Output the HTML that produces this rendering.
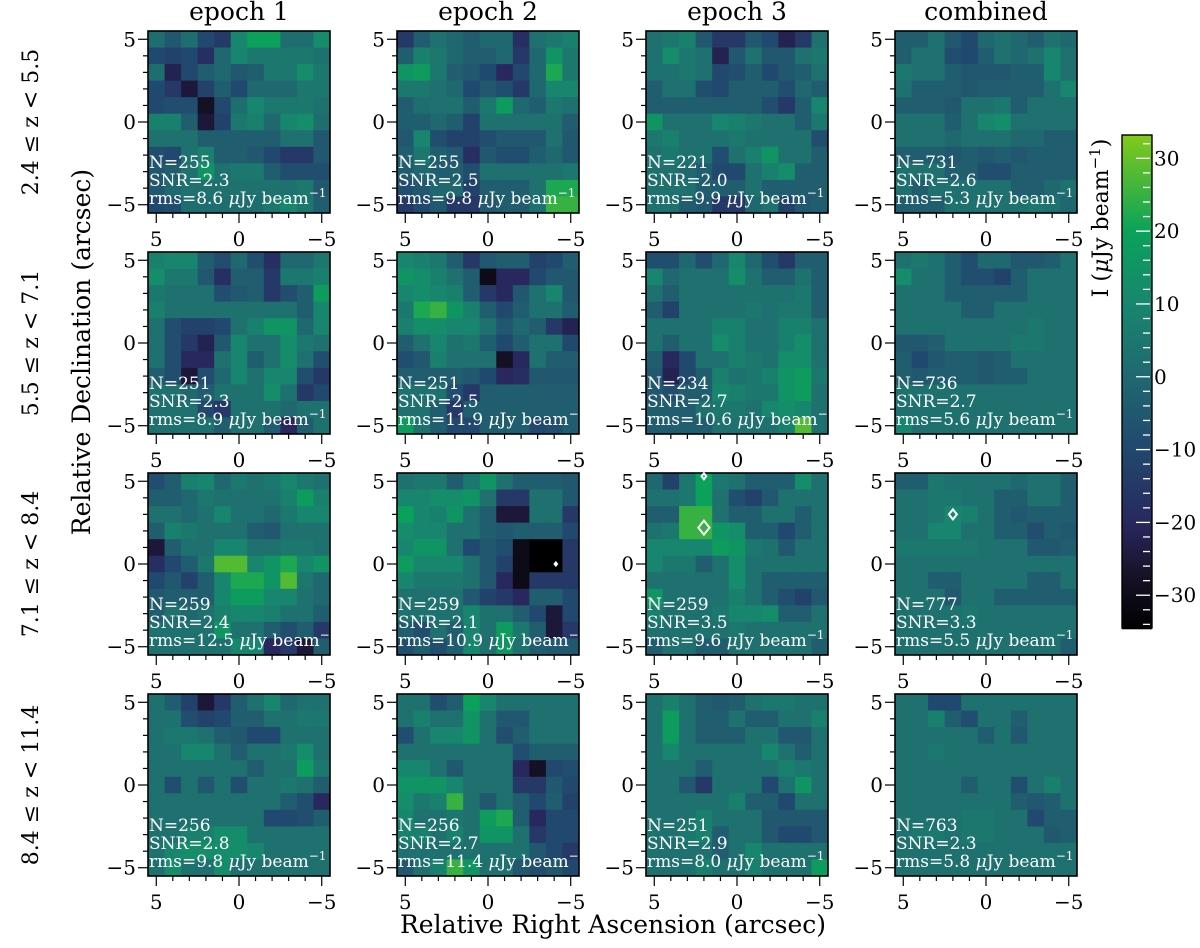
<!DOCTYPE html>
<html><head><meta charset="utf-8"><style>
body{margin:0;background:#fff;}
svg text{font-family:"DejaVu Serif","Liberation Serif",serif;}
</style></head><body>
<svg id="fig" width="1200" height="943" viewBox="0 0 1200 943" xmlns="http://www.w3.org/2000/svg"></svg>
<script>
const colTitles=["epoch 1","epoch 2","epoch 3","combined"];
const rowTitles=["2.4 ≤ z < 5.5","5.5 ≤ z < 7.1","7.1 ≤ z < 8.4","8.4 ≤ z < 11.4"];
const nVals=[[255,255,221,731],[251,251,234,736],[259,259,259,777],[256,256,251,763]];
const snrVals=[["2.3","2.5","2.0","2.6"],["2.3","2.5","2.7","2.7"],["2.4","2.1","3.5","3.3"],["2.8","2.7","2.9","2.3"]];
const rmsVals=[["8.6","9.8","9.9","5.3"],["8.9","11.9","10.6","5.6"],["12.5","10.9","9.6","5.5"],["9.8","11.4","8.0","5.8"]];
const xTicks=[5,0,-5];
const yTicks=[5,0,-5];
const cbTicks=[30,20,10,0,-10,-20,-30];
const markers=[{r:2,c:2,ra:2,dec:2.2,s:7},{r:2,c:2,ra:2,dec:5.3,s:3},{r:2,c:3,ra:2,dec:3,s:5},{r:2,c:1,ra:-4.1,dec:0,s:1.5}];
const m00=[[2,-5,2,-10,-14,10,20,20,2,2,12],[-10,-12,-10,-18,0,10,5,5,5,5,3],[2,-22,-10,-3,0,-5,-3,5,5,12,5],[-10,-15,-25,-12,-3,-10,0,0,0,5,5],[-10,-8,-8,-28,-10,2,10,5,5,5,3],[8,8,-3,-25,-12,5,8,0,10,12,2],[3,3,3,-3,-3,-3,-3,-3,3,3,-5],[-8,-10,3,8,-3,-3,-5,-10,-15,-15,-5],[-5,-3,3,15,3,5,5,-3,-8,-8,-8],[-5,0,3,3,3,3,3,3,3,5,-5],[-10,-8,2,2,2,2,2,5,10,5,-3]];
const m01=[[-15,-3,3,0,-3,0,0,-18,3,5,8],[-3,8,5,0,-3,-3,0,-15,0,15,5],[15,18,5,-3,-5,-10,-20,-10,0,22,5],[5,5,3,0,-10,-5,-8,-15,0,10,10],[-3,2,3,3,-3,5,18,0,-3,5,3],[-3,-3,0,-3,-12,3,3,3,3,3,-3],[-5,10,-8,-12,-12,-8,-5,-5,-5,3,-5],[-3,5,-3,-5,-18,-5,-8,-8,-3,0,-5],[-3,0,-3,-3,-8,3,3,3,3,3,5],[-8,-5,0,0,-12,-3,-3,-3,3,22,22],[-15,-10,-5,-15,-15,-5,-3,-3,3,25,25]];
const m02=[[3,5,8,-5,-15,-15,-5,-10,-22,-15,3],[3,12,5,3,-22,-5,3,-5,-5,3,5],[3,3,5,3,-10,-8,-3,-10,-5,-3,3],[-3,3,3,-8,-10,-3,-3,-3,-8,0,-3],[-3,-3,-3,-3,-3,-3,-3,-8,-15,-3,10],[15,3,3,3,10,8,5,3,3,-3,5],[5,8,3,3,3,5,3,3,3,3,-8],[3,5,3,3,-8,3,8,15,3,3,-3],[3,3,0,-3,-10,-10,3,8,12,-3,-3],[3,3,3,-3,-3,-3,3,-3,-3,-3,-3],[3,3,-3,-5,-15,-15,0,3,-12,-5,-3]];
const m03=[[-3,-3,3,-5,-10,0,3,0,-3,3,0],[-3,3,3,-8,-10,-3,3,0,3,10,3],[5,3,3,-3,-5,-5,-5,-3,-3,10,3],[3,-3,-3,-3,-5,-3,-3,-3,-3,3,10],[-3,-3,-3,-5,3,3,5,-3,3,3,3],[3,3,3,-3,3,10,12,3,3,3,3],[3,3,3,0,3,3,3,0,0,-3,-3],[-3,-3,-3,-5,-3,-5,-3,-5,-3,-3,-3],[3,3,3,-3,-3,-8,-8,-3,-3,-3,-3],[3,-3,3,3,3,3,3,-3,-3,0,3],[-3,-3,-3,3,3,3,3,3,5,3,0]];
const m10=[[8,10,10,-3,-8,0,-8,-18,0,0,5],[12,5,5,-5,-18,-3,-3,-15,5,5,8],[5,3,3,3,-8,-5,-3,-15,-8,-3,18],[8,3,3,3,3,3,3,3,3,-3,10],[3,-8,-12,-12,-10,3,8,15,15,0,10],[3,-8,-15,-22,-5,10,3,3,12,5,3],[3,-8,-20,-20,3,10,-3,3,12,3,-8],[-3,-8,-25,-8,0,10,3,10,10,-8,-15],[3,3,0,-3,3,3,3,12,3,-15,-10],[3,3,3,-10,-15,3,3,3,0,3,3],[3,3,3,3,-3,3,3,-3,-20,-3,3]];
const m11=[[10,8,5,-3,-15,-5,-3,-3,-12,-10,-3],[15,12,8,3,-3,-30,-20,-20,-10,-5,-5],[10,12,10,8,-3,-15,-20,-5,3,10,-5],[5,22,25,15,8,-3,-10,-3,3,3,-3],[8,12,12,10,10,3,-5,0,-3,-15,-22],[-3,3,10,3,5,-3,-10,-3,3,3,-10],[-8,-5,8,3,3,3,-28,-20,3,-3,-3],[-3,-3,-3,-3,-5,-10,-20,-18,-5,-5,-5],[3,3,3,-8,-15,-3,-3,-3,-3,-3,-3],[3,3,-3,-15,-3,-3,-3,-3,-3,-3,-3],[18,3,-3,-10,-10,-3,-3,-3,-10,-8,-3]];
const m12=[[-8,-8,0,-8,0,10,0,-8,-15,-3,-3],[10,0,3,3,3,12,3,-3,-3,3,-3],[3,-3,3,3,3,3,3,3,3,5,-3],[-3,-12,3,3,3,3,5,3,5,5,-3],[3,3,3,3,8,8,3,3,8,8,3],[3,-3,3,3,12,8,3,3,8,12,3],[-3,-20,-10,3,3,8,5,3,12,12,3],[-5,-22,-10,-3,8,3,5,8,15,18,5],[-5,-8,-3,-3,10,8,5,5,15,18,3],[-3,-3,-3,3,5,5,3,10,12,10,3],[-3,-3,-3,-3,3,3,3,3,8,28,3]];
const m13=[[3,5,3,-3,-8,0,0,-5,-5,-3,3],[12,3,3,-3,-8,-8,-12,-3,3,3,3],[3,3,3,-3,-3,-3,-3,-3,3,3,3],[3,3,3,3,-3,-3,3,3,3,3,3],[3,3,3,3,3,3,3,3,5,3,3],[-5,-5,-3,3,3,3,3,5,5,3,3],[-3,-10,-5,-3,-3,-5,-3,3,3,3,3],[-3,-5,-3,-3,-3,-5,-3,-3,3,3,3],[3,3,3,3,3,3,3,3,3,3,3],[3,3,3,3,3,3,3,3,3,3,3],[10,3,3,3,3,3,3,3,3,3,3]];
const m20=[[-8,-3,8,10,0,5,3,5,10,5,3],[-3,-3,0,5,3,3,3,3,8,18,8],[3,3,0,3,10,3,3,0,5,10,10],[-3,8,5,3,3,3,-3,-5,3,3,3],[-25,-3,3,3,10,10,3,3,5,5,3],[-18,-10,-3,5,28,28,10,15,22,10,15],[-10,-5,-12,-3,10,22,22,15,28,5,0],[-5,-3,-3,-3,10,18,18,10,10,3,0],[-3,3,0,3,8,10,10,8,3,3,-3],[3,3,3,3,15,3,3,-3,-8,-3,-15],[3,3,3,3,3,10,10,-20,-15,-25,-3]];
const m21=[[3,5,5,-3,5,15,3,-3,-3,-3,-5],[10,10,12,12,15,3,-15,-15,3,3,-5],[20,10,8,15,3,-3,-25,-25,3,3,-15],[12,10,10,3,3,-3,-5,-3,-3,-3,-10],[10,15,15,3,-10,-5,-8,-30,-35,-35,-15],[18,10,10,10,3,-5,-12,-30,-35,-35,-15],[10,5,5,5,3,-5,-20,-30,-15,-15,-15],[3,3,3,3,-5,-12,-15,-20,-3,-3,-10],[3,3,3,3,10,3,3,-3,-10,-25,-10],[-3,-8,3,-3,10,3,18,5,-3,-25,-15],[-8,-3,-8,-3,10,3,15,3,-3,-5,-5]];
const m22=[[0,-12,5,20,5,3,-3,-3,-3,12,3],[3,3,5,20,3,-8,-12,-5,3,3,3],[-3,-3,25,25,3,-3,-3,3,3,-3,3],[3,5,25,25,15,12,-3,-3,-10,-3,3],[10,10,10,10,18,15,5,3,-5,3,3],[10,5,5,-3,3,12,3,3,3,3,3],[3,3,3,3,3,12,3,-3,-3,-3,-3],[15,3,3,3,3,8,3,-3,-8,-12,-5],[8,3,3,3,5,10,10,12,-3,-3,3],[3,3,3,3,3,5,3,3,3,3,3],[-3,3,3,-3,-3,3,3,3,3,3,-3]];
const m23=[[-3,-3,5,3,3,3,3,0,3,3,-3],[3,3,5,5,3,3,-3,-3,3,3,-3],[3,3,5,10,8,3,-3,-5,-3,-3,-3],[3,3,10,10,3,3,-3,-3,-8,-3,-5],[5,5,5,5,5,3,3,3,-5,-5,-3],[3,3,3,3,3,3,3,3,3,3,3],[3,3,-3,-3,3,3,3,3,-3,-3,3],[3,3,3,-5,3,3,-3,-3,-3,-3,-3],[3,3,3,3,5,3,3,3,3,3,3],[3,3,3,3,3,3,3,3,3,3,3],[3,3,3,3,3,3,3,3,3,3,-3]];
const m30=[[3,-3,-12,-25,-15,-3,3,10,0,3,3],[3,3,-8,-12,-10,-3,-3,3,3,5,5],[3,5,5,3,-3,-5,-10,-10,3,3,3],[3,3,10,10,3,-3,3,3,5,12,3],[3,3,3,3,3,3,-3,3,3,18,5],[3,-8,3,-5,3,-8,3,3,5,3,-3],[3,3,3,3,3,3,3,3,-3,-8,-20],[3,3,3,3,3,3,3,-10,-10,-8,-3],[3,3,8,8,12,12,3,3,3,3,3],[3,10,12,12,12,12,10,3,3,3,3],[3,12,3,3,12,3,3,3,3,3,3]];
const m31=[[3,3,-8,-3,20,10,3,3,3,3,3],[3,8,3,3,15,3,-5,-5,3,3,3],[-8,3,10,10,15,3,-8,-3,3,3,3],[3,3,3,3,3,3,3,-8,-3,-3,-3],[10,10,3,-5,3,3,3,-20,-28,-10,-8],[15,15,15,10,3,3,3,-15,-15,-5,-10],[12,5,8,25,3,-5,3,-3,-10,-3,-12],[10,3,3,5,3,18,22,-3,-20,-10,-10],[8,8,3,8,3,15,15,3,-15,-10,-10],[3,3,3,3,3,3,3,3,-5,-10,-15],[-5,3,8,25,15,3,3,-5,-8,-5,-10]];
const m32=[[3,8,3,-3,-5,-3,3,5,5,3,3],[3,18,3,-3,-3,3,-3,-3,3,3,8],[3,18,3,-3,-3,-3,3,3,-5,-5,3],[3,10,3,3,3,3,3,10,3,-3,3],[3,3,3,-3,3,3,3,3,8,5,3],[3,3,-5,-15,3,3,3,-10,3,15,3],[3,3,3,3,3,8,-3,-3,-10,3,3],[3,3,3,8,3,3,3,-5,-5,-5,-5],[3,3,5,8,-3,3,3,-5,-10,-10,-5],[3,3,3,3,-3,3,10,3,3,3,3],[3,3,3,8,3,3,8,3,3,3,18]];
const m33=[[3,3,-10,-10,3,3,3,3,3,3,3],[3,3,8,-3,-8,3,3,-3,3,3,3],[3,3,3,3,3,-3,3,-5,3,3,3],[3,3,5,3,3,3,3,3,3,3,3],[3,3,3,3,3,3,3,3,3,3,3],[3,3,3,3,-3,3,3,-8,3,8,3],[3,3,3,3,3,3,3,-3,-5,-3,3],[3,3,3,3,5,5,3,3,-10,-3,-3],[3,5,5,3,5,5,3,3,3,-5,-3],[3,3,3,3,3,3,3,3,3,3,3],[3,3,3,3,3,3,3,3,3,3,3]];
const maps=[[m00,m01,m02,m03],[m10,m11,m12,m13],[m20,m21,m22,m23],[m30,m31,m32,m33]];

const VMIN=-34.5,VMAX=33.2;
const stops=[[-34.5,[0,0,0]],[-27,[24,18,42]],[-20,[40,40,95]],[-10,[33,72,110]],[0,[32,104,112]],[10,[24,134,110]],[20,[10,162,90]],[33.2,[130,202,26]]];
function cmap(v){v=Math.max(VMIN,Math.min(VMAX,v));for(let i=0;i<stops.length-1;i++){const a=stops[i],b=stops[i+1];if(v<=b[0]){const t=(v-a[0])/(b[0]-a[0]);const c=a[1].map((x,k)=>Math.round(x+(b[1][k]-x)*t));return `rgb(${c[0]},${c[1]},${c[2]})`;}}return 'rgb(130,202,26)';}
const NS='http://www.w3.org/2000/svg';
const svg=document.getElementById('fig');
function el(tag,attrs,parent){const e=document.createElementNS(NS,tag);for(const k in attrs)e.setAttribute(k,attrs[k]);(parent||svg).appendChild(e);return e;}
const lefts=[148,397,646,895],tops=[31,252,473,694],S=182;
function xs(ra,c){return lefts[c]+(5.5-ra)/11*S;}
function ys(dec,r){return tops[r]+(5.5-dec)/11*S;}

for(let r=0;r<4;r++){for(let c=0;c<4;c++){
 const g=el('g',{});
 
 
 const m=maps[r][c];
 for(let i=0;i<11;i++)for(let j=0;j<11;j++){
  const ra=5-j,dec=5-i;
  const x0=xs(ra+0.5,c),y0=ys(dec+0.5,r);
  const rc=el('rect',{x:x0.toFixed(2),y:y0.toFixed(2),width:(S/11+0.4).toFixed(2),height:(S/11+0.4).toFixed(2),fill:cmap(m[i][j])},g);
  
  
 }
 el('rect',{x:lefts[c],y:tops[r],width:S,height:S,fill:'none',stroke:'#000','stroke-width':1.6},g);
 for(let t=-5;t<=5;t++){
  const major=(t%5===0),L=major?10:5;
  const X=xs(t,c),Y=ys(t,r);
  el('line',{x1:X,y1:tops[r]+S,x2:X,y2:tops[r]+S+L,stroke:'#000','stroke-width':1.2},g);
  el('line',{x1:lefts[c],y1:Y,x2:lefts[c]-L,y2:Y,stroke:'#000','stroke-width':1.2},g);
 }
 xTicks.forEach(t=>{const tx=el('text',{x:xs(t,c),y:tops[r]+S+33,'font-size':20,'text-anchor':'middle',fill:'#000'},g);tx.textContent=String(t).replace('-','−');});
 yTicks.forEach(t=>{const tx=el('text',{x:lefts[c]-12,y:ys(t,r)+7,'font-size':20,'text-anchor':'end',fill:'#000'},g);tx.textContent=String(t).replace('-','−');});
}}
// annotations drawn after all panels so they overflow on top
for(let r=0;r<4;r++){for(let c=0;c<4;c++){
 const g=el('g',{});
 
 
 const lines=['N='+nVals[r][c],'SNR='+snrVals[r][c]];
 lines.forEach((s,k)=>{const tx=el('text',{x:lefts[c]+1,y:tops[r]+137+k*18,'font-size':17,fill:'#fff'},g);tx.textContent=s;});
 const rt=el('text',{x:lefts[c]+1,y:tops[r]+173,'font-size':17,fill:'#fff'},g);
 rt.innerHTML='rms='+rmsVals[r][c]+' <tspan font-style="italic">μ</tspan>Jy beam<tspan dy="-7" font-size="12">−1</tspan>';
 
 
}}
markers.forEach(mk=>{
 const X=xs(mk.ra,mk.c),Y=ys(mk.dec,mk.r),s=mk.s;
 const p=el('polygon',{points:`${X},${Y-s} ${X+s*0.8},${Y} ${X},${Y+s} ${X-s*0.8},${Y}`,fill:s<2?'#fff':'none',stroke:'#fff','stroke-width':2});
 
 
});
colTitles.forEach((t,c)=>{const tx=el('text',{x:lefts[c]+S/2,y:20,'font-size':25,'text-anchor':'middle',fill:'#000'});tx.textContent=t;});
rowTitles.forEach((t,r)=>{const cy=tops[r]+S/2;const tx=el('text',{x:38,y:cy,'font-size':22,'text-anchor':'middle',fill:'#000',transform:`rotate(-90 38 ${cy})`});tx.textContent=t;});
const yl=el('text',{x:90,y:352,'font-size':25,'text-anchor':'middle',fill:'#000',transform:'rotate(-90 90 352)'});
yl.textContent='Relative Declination (arcsec)';


const xl=el('text',{x:613,y:933,'font-size':25,'text-anchor':'middle',fill:'#000'});
xl.textContent='Relative Right Ascension (arcsec)';


const cbX=1122,cbW=30,cbT=135,cbB=628;
function cy(v){return cbB-(v-VMIN)/(VMAX-VMIN)*(cbB-cbT);}
const cb=el('g',{});


for(let y=cbT;y<cbB;y+=2){const v=VMIN+(cbB-y-1)/(cbB-cbT)*(VMAX-VMIN);el('rect',{x:cbX,y:y,width:cbW,height:2.3,fill:cmap(v)},cb);}
el('rect',{x:cbX,y:cbT,width:cbW,height:cbB-cbT,fill:'none',stroke:'#000','stroke-width':1.4},cb);
for(let v=-34;v<=33;v+=2){const major=v%10===0;const Y=cy(v);el('line',{x1:cbX+cbW-(major?16:9),y1:Y,x2:cbX+cbW-2,y2:Y,stroke:'#fff','stroke-width':1.3},cb);}
cbTicks.forEach(v=>{const tx=el('text',{x:cbX+cbW+2,y:cy(v)+7,'font-size':20,fill:'#000'},cb);tx.textContent=String(v).replace('-','−');});
const cl=el('text',{x:1108,y:218,'font-size':22,'text-anchor':'middle',fill:'#000',transform:'rotate(-90 1108 218)'});
cl.innerHTML='I (<tspan font-style="italic">μ</tspan>Jy beam<tspan dy="-8" font-size="15">−1</tspan><tspan dy="8">)</tspan>';


</script>
</body></html>
